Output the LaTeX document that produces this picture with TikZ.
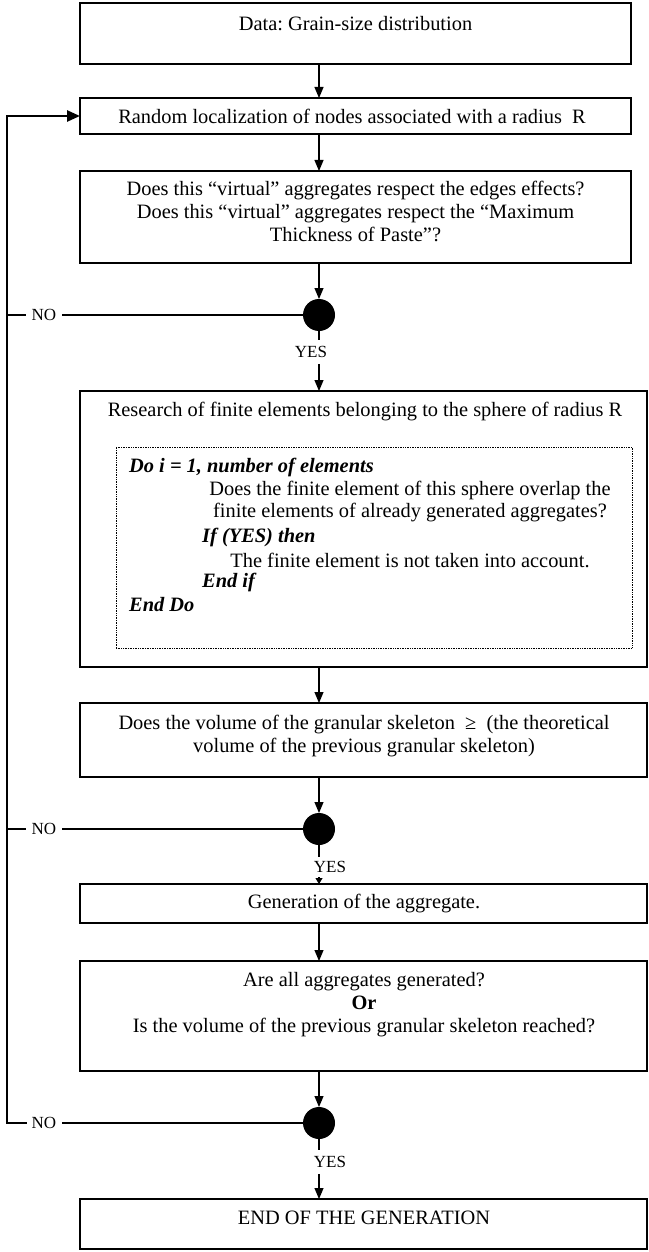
\documentclass[tikz,border=0pt]{standalone}
\usepackage{fontspec}
\setmainfont{Liberation Serif}
\usetikzlibrary{arrows.meta}
\frenchspacing
\begin{document}
\begin{tikzpicture}[x=1pt,y=1pt,
  box/.style={draw, line width=1.1pt, anchor=north west, inner sep=0pt, outer sep=0pt},
  dotbox/.style={draw, densely dotted, line width=0.7pt, anchor=north west, inner sep=0pt, outer sep=0pt},
  txt/.style={font=\fontsize{20.4}{23}\selectfont, inner sep=0pt, align=center},
  kw/.style={font=\fontsize{20.4}{23}\selectfont\bfseries\itshape, inner sep=0pt, anchor=west},
  lab/.style={font=\fontsize{17}{20}\selectfont, inner xsep=6pt, inner ysep=6pt},
  arr/.style={-{Triangle[length=11pt,width=9pt]}, line width=1.1pt},
  sarr/.style={-{Triangle[length=6pt,width=7pt]}, line width=1.1pt},
  loopline/.style={line width=2.6pt},
  dec/.style={circle, fill=black, minimum size=32pt, inner sep=0pt, outer sep=0pt},
]
\useasboundingbox (0,0) rectangle (648,-1252);

% boxes
\node[box, minimum width=551pt, minimum height=61pt] (b1) at (80,-3) {};
\node[box, minimum width=551pt, minimum height=36pt] (b2) at (80,-98) {};
\node[box, minimum width=551pt, minimum height=92pt] (b3) at (80,-171) {};
\node[box, minimum width=567pt, minimum height=276pt] (b4) at (80,-391) {};
\node[dotbox, minimum width=516pt, minimum height=201pt] (db) at (116,-447) {};
\node[box, minimum width=567pt, minimum height=74pt] (b5) at (80,-703) {};
\node[box, minimum width=567pt, minimum height=39pt] (b6) at (80,-884) {};
\node[box, minimum width=567pt, minimum height=110pt] (b7) at (80,-961) {};
\node[box, minimum width=567pt, minimum height=50pt] (b8) at (80,-1199) {};

% texts
\node[txt] (t1) at (355.5,-24) {Data: Grain-size distribution};
\node[txt] (t2) at (352,-116) {Random localization of nodes associated with a radius~~R};
\node[txt] (t3) at (355.5,-211) {Does this “virtual” aggregates respect the edges effects?\\Does this “virtual” aggregates respect the “Maximum\\Thickness of Paste”?};
\node[txt] (t4) at (365,-412) {Research of finite elements belonging to the sphere of radius R};
\node[kw] (l1) at (129,-467) {Do i = 1, number of elements};
\node[txt] (l2) at (410,-490) {Does the finite element of this sphere overlap the};
\node[txt] (l3) at (410,-513) {finite elements of already generated aggregates?};
\node[kw] (l4) at (202,-537) {If (YES) then};
\node[txt] (l5) at (410,-560) {The finite element is not taken into account.};
\node[kw] (l6) at (202,-582) {End if};
\node[kw] (l7) at (129,-605) {End Do};
\node[txt] (t5) at (364,-736) {Does the volume of the granular skeleton ~≥~ (the theoretical\\volume of the previous granular skeleton)};
\node[txt] (t6) at (364,-904) {Generation of the aggregate.};
\node[txt] (t7) at (364,-1005) {Are all aggregates generated?\\\textbf{Or}\\Is the volume of the previous granular skeleton reached?};
\node[txt] (t8) at (364,-1218) {END OF THE GENERATION};

% decisions
\node[dec] (c1) at (319,-315) {};
\node[dec] (c2) at (319,-829) {};
\node[dec] (c3) at (319,-1123) {};

\node[lab] (y1) at (311,-352) {YES};
\node[lab, inner ysep=4.5pt] (y2) at (330,-867) {YES};
\node[lab] (y3) at (330,-1162) {YES};

\node[lab] (n1) at (44,-315) {NO};
\node[lab] (n2) at (44,-829) {NO};
\node[lab] (n3) at (44,-1123) {NO};

\coordinate (axis) at (319,0);
\coordinate (top) at (7,-116);
\coordinate (bot) at (7,-1123);

% main flow
\draw[arr] (b1.south -| axis) -- (b2.north -| axis);
\draw[arr] (b2.south -| axis) -- (b3.north -| axis);
\draw[arr] (b3.south -| axis) -- (c1.north);
\draw[line width=1.1pt] (c1.south) -- (y1.north -| axis);
\draw[arr] (y1.south -| axis) -- (b4.north -| axis);
\draw[arr] (b4.south -| axis) -- (b5.north -| axis);
\draw[arr] (b5.south -| axis) -- (c2.north);
\draw[line width=1.1pt] (c2.south) -- (y2.north -| axis);
\draw[sarr] (y2.south -| axis) -- (b6.north -| axis);
\draw[arr] (b6.south -| axis) -- (b7.north -| axis);
\draw[arr] (b7.south -| axis) -- (c3.north);
\draw[line width=1.1pt] (c3.south) -- (y3.north -| axis);
\draw[arr] (y3.south -| axis) -- (b8.north -| axis);

% NO loop
\draw[loopline] (c1.west) -- (n1.east);
\draw[loopline] (c2.west) -- (n2.east);
\draw[loopline] (c3.west) -- (n3.east);
\draw[loopline] (n1.west) -- (n1.west -| top);
\draw[loopline] (n2.west) -- (n2.west -| top);
\draw[loopline, line cap=rect] (n3.west) -- (bot);
\draw[loopline, -{Triangle[length=13pt,width=11pt]}] (bot) -- (top) -- (b2.west);
\end{tikzpicture}
\end{document}
